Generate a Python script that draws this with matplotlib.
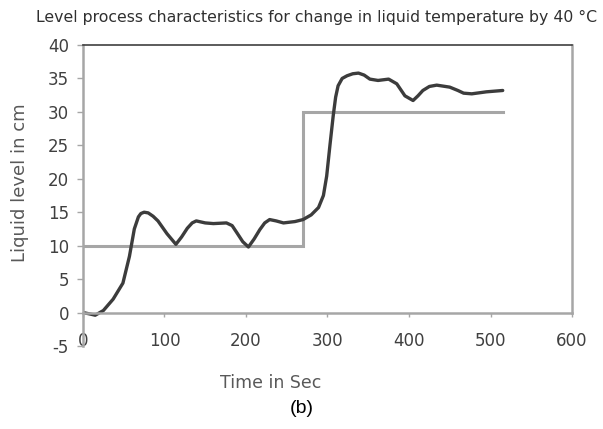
import numpy as np
import matplotlib
matplotlib.use("Agg")
import matplotlib.pyplot as plt

plt.rcParams["axes.unicode_minus"] = False

# setpoint (step)
set_t = [0, 270, 270, 515]
set_v = [10, 10, 30, 30]

resp_t = [0, 8, 15, 25, 37, 49, 57, 63, 68, 71, 75, 80, 86, 92, 103, 114, 121, 128, 134,
          139, 150, 160, 176, 183, 189, 196, 203, 210, 217, 223, 229, 237, 246, 260, 270,
          280, 289, 295, 299, 303, 307, 310, 313, 318, 324, 331, 338, 345, 352, 362, 375,
          385, 395, 405, 411, 417, 425, 434, 450, 460, 467, 477, 495, 515]
resp_v = [0, -0.2, -0.4, 0.3, 2.0, 4.4, 8.4, 12.5, 14.3, 14.8, 15.0, 14.9, 14.4, 13.7,
          11.8, 10.2, 11.3, 12.6, 13.4, 13.7, 13.4, 13.3, 13.4, 13.0, 11.9, 10.6, 9.8,
          11.0, 12.4, 13.4, 13.9, 13.7, 13.4, 13.6, 13.9, 14.6, 15.7, 17.5, 20.4, 25.0,
          29.4, 32.2, 33.9, 35.0, 35.4, 35.7, 35.8, 35.5, 34.9, 34.7, 34.9, 34.2, 32.4,
          31.7, 32.4, 33.2, 33.8, 34.0, 33.7, 33.2, 32.8, 32.7, 33.0, 33.2]

xticks = [0, 100, 200, 300, 400, 500, 600]
yticks = [-5, 0, 5, 10, 15, 20, 25, 30, 35, 40]

title = "Level process characteristics for change in liquid temperature by 40 \u00b0C"

fig = plt.figure(figsize=(6.03, 4.29), dpi=100)
ax = fig.add_axes([0.1376, 0.1935, 0.811, 0.7016])

ax.plot(set_t, set_v, color="#a6a6a6", lw=2.2, solid_joinstyle="miter")
ax.plot(resp_t, resp_v, color="#3c3c3c", lw=2.4, solid_capstyle="round",
        solid_joinstyle="round")

ax.set_xlim(0, 600)
ax.set_ylim(-5, 40)

for s in ["left", "bottom", "right"]:
    ax.spines[s].set_color("#a6a6a6")
    ax.spines[s].set_linewidth(1.8)
ax.spines["top"].set_color("#404040")
ax.spines["top"].set_linewidth(1.2)
ax.spines["bottom"].set_position(("data", 0))
ax.spines["right"].set_bounds(0, 40)

ax.set_xticks(xticks)
ax.set_yticks(yticks)
ax.tick_params(axis="y", direction="out", length=4, width=1, color="#a6a6a6",
               labelsize=12, labelcolor="#404040", pad=6)
ax.tick_params(axis="x", direction="out", length=3, width=1, color="#a6a6a6",
               labelsize=12, labelcolor="#404040", pad=11)

fig.text(0.033, 0.573, "Liquid level in cm", fontsize=13, color="#595959",
         rotation=90, ha="center", va="center")
fig.text(0.449, 0.107, "Time in Sec", fontsize=12.5, color="#595959", ha="center", va="center")
fig.text(0.525, 0.960, title, fontsize=11.3, color="#303030", ha="center", va="center")
fig.text(0.50, 0.047, "(b)", fontsize=14, color="#000000", ha="center", va="center",
         family="Liberation Sans")

fig.savefig("out.png", dpi=100)
